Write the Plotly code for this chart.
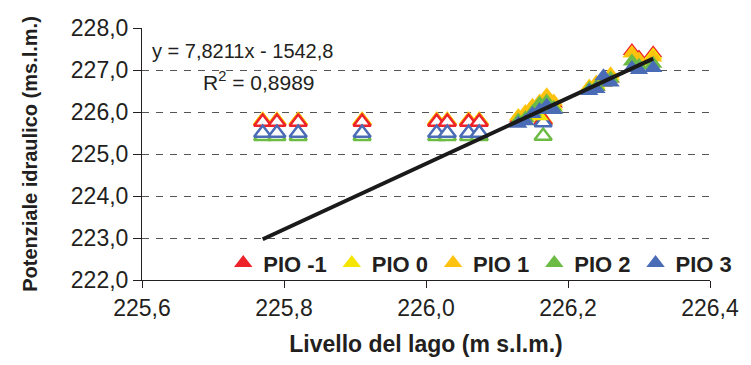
import plotly.graph_objects as go

# Lake level (m s.l.m.) for the readings shown as open markers
lake_open = [225.77, 225.79, 225.82, 225.91, 226.015, 226.03, 226.06, 226.075, 226.165]
# Piezometric head (m s.l.m.) for those readings
pio_m1_open = [225.76, 225.76, 225.76, 225.76, 225.76, 225.76, 225.76, 225.76, 225.80]
pio_0_open = [225.79, 225.79, 225.79, 225.79, 225.79, 225.79, 225.79, 225.79, 225.80]
pio_1_open = [225.79, 225.79, 225.79, 225.79, 225.79, 225.79, 225.79, 225.79, 225.82]
pio_2_open = [225.42, 225.42, 225.42, 225.42, 225.42, 225.42, 225.42, 225.42, 225.43]
pio_3_open = [225.50, 225.50, 225.50, 225.50, 225.50, 225.50, 225.50, 225.50, 225.75]

# Lake level (m s.l.m.) for the readings shown as filled markers
lake_full = [226.13, 226.14, 226.15, 226.16, 226.17, 226.18,
             226.23, 226.24, 226.25, 226.26, 226.29, 226.30, 226.32]
pio_m1_full = [225.85, 225.90, 226.05, 225.95, 226.10, 226.20,
               226.55, 226.60, 226.70, 226.80, 227.45, 227.30, 227.40]
pio_0_full = [225.90, 225.95, 226.10, 225.90, 226.30, 226.15,
              226.60, 226.65, 226.75, 226.85, 227.40, 227.20, 227.35]
pio_1_full = [225.90, 226.00, 226.15, 226.25, 226.40, 226.25,
              226.60, 226.70, 226.80, 226.90, 227.40, 227.25, 227.30]
pio_2_full = [225.80, 225.85, 226.00, 226.20, 226.25, 226.10,
              226.55, 226.60, 226.70, 226.80, 227.20, 227.10, 227.15]
pio_3_full = [225.72, 225.78, 225.95, 226.05, 226.15, 226.05,
              226.50, 226.55, 226.85, 226.70, 227.05, 227.00, 227.05]

series_names = ["PIO -1", "PIO 0", "PIO 1", "PIO 2", "PIO 3"]

# Linear trend y = a*x + b and its coefficient of determination
trend_slope = 7.8211
trend_intercept = -1542.8
trend_r2 = 0.8989

x_ticks = [225.6, 225.8, 226.0, 226.2, 226.4]
y_ticks = [222.0, 223.0, 224.0, 225.0, 226.0, 227.0, 228.0]

colors = {
    "PIO -1": "#EE2229",
    "PIO 0": "#F4E600",
    "PIO 1": "#FFC20E",
    "PIO 2": "#6CBB45",
    "PIO 3": "#4A6CB6",
}
open_values = {
    "PIO -1": pio_m1_open, "PIO 0": pio_0_open, "PIO 1": pio_1_open,
    "PIO 2": pio_2_open, "PIO 3": pio_3_open,
}
full_values = {
    "PIO -1": pio_m1_full, "PIO 0": pio_0_full, "PIO 1": pio_1_full,
    "PIO 2": pio_2_full, "PIO 3": pio_3_full,
}

FONT = "Liberation Sans, Arial, sans-serif"
INK = "#231F20"

fig = go.Figure()

# open (white-filled) markers, drawn underneath
for name in ["PIO 0", "PIO 1", "PIO -1", "PIO 2", "PIO 3"]:
    fig.add_trace(go.Scatter(
        x=lake_open, y=open_values[name], mode="markers", name=name,
        legendgroup=name, showlegend=False, hoverinfo="x+y",
        marker=dict(symbol="triangle-up", size=15, color="white",
                    line=dict(color=colors[name], width=2.5)),
    ))

# filled markers
for rank, name in enumerate(series_names):
    fig.add_trace(go.Scatter(
        x=lake_full, y=full_values[name], mode="markers",
        name=f"<b>{name}</b>",
        legendgroup=name, legendrank=rank + 1,
        marker=dict(symbol="triangle-up", size=16, color=colors[name],
                    line=dict(width=0)),
    ))

# trend line across the observed lake levels
all_lake = lake_open + lake_full
x0, x1 = min(all_lake), max(all_lake)
fig.add_trace(go.Scatter(
    x=[x0, x1],
    y=[trend_slope * x0 + trend_intercept, trend_slope * x1 + trend_intercept],
    mode="lines", line=dict(color="#1A1A1A", width=4),
    showlegend=False, hoverinfo="skip",
))


def it(v, nd):
    return f"{v:.{nd}f}".replace(".", ",")


sign = "-" if trend_intercept < 0 else "+"
eq_text = f"y = {it(trend_slope, 4)}x {sign} {it(abs(trend_intercept), 1)}"
r2_text = f"R<sup>2</sup> = {it(trend_r2, 4)}"

fig.add_annotation(xref="paper", yref="paper", x=0.340, y=0.91,
                   xanchor="right", yanchor="middle", showarrow=False,
                   text=eq_text, font=dict(family=FONT, size=20, color=INK))
fig.add_annotation(xref="paper", yref="paper", x=0.104, y=0.79,
                   xanchor="left", yanchor="middle", showarrow=False,
                   text=r2_text, font=dict(family=FONT, size=21, color=INK))

fig.update_layout(
    width=751, height=365,
    margin=dict(l=142, r=33, t=28, b=84),
    paper_bgcolor="white", plot_bgcolor="white",
    separators=",.",
    font=dict(family=FONT, color=INK),
    legend=dict(
        orientation="h", x=0.143, y=0.067, xanchor="left", yanchor="middle",
        bgcolor="rgba(0,0,0,0)", font=dict(family=FONT, size=22, color=INK),
        itemwidth=30, tracegroupgap=0,
    ),
    xaxis=dict(
        range=[225.6, 226.4], tickvals=x_ticks, tickformat=".1f",
        showgrid=False, zeroline=False,
        showline=True, linecolor=INK, linewidth=1,
        ticks="outside", ticklen=7, tickcolor=INK,
        tickfont=dict(family=FONT, size=23, color=INK),
        title=dict(text="<b>Livello del lago (m s.l.m.)</b>", standoff=16,
                   font=dict(family=FONT, size=23, color=INK)),
    ),
    yaxis=dict(
        range=[222, 228], tickvals=y_ticks, tickformat=".1f",
        showgrid=True, gridcolor="#555555", gridwidth=1, griddash="7px,7px",
        zeroline=False,
        showline=True, linecolor=INK, linewidth=1,
        ticks="outside", ticklen=8, tickcolor=INK,
        tickfont=dict(family=FONT, size=23, color=INK),
        title=dict(text="<b>Potenziale idraulico (ms.l.m.)</b>", standoff=27,
                   font=dict(family=FONT, size=20, color=INK)),
    ),
)

fig.write_html("out.html")
